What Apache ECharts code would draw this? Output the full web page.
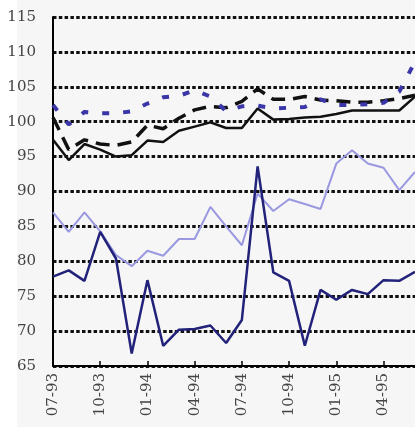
<!DOCTYPE html>
<html>
<head>
<meta charset="utf-8">
<script src="https://cdn.jsdelivr.net/npm/echarts@6/dist/echarts.min.js"></script>
<style>
html,body{margin:0;padding:0;background:#ffffff;}
#chart{width:415px;height:430px;}
</style>
</head>
<body>
<div id="chart"></div>
<script>
const categories = ["07-93","08-93","09-93","10-93","11-93","12-93","01-94","02-94","03-94","04-94","05-94","06-94","07-94","08-94","09-94","10-94","11-94","12-94","01-95","02-95","03-95","04-95","05-95","06-95"];
const navySolid = [77.8, 78.7, 77.2, 84.2, 80.4, 66.8, 77.3, 67.9, 70.2, 70.3, 70.8, 68.3, 71.6, 93.6, 78.4, 77.2, 67.9, 75.9, 74.5, 75.9, 75.3, 77.3, 77.2, 78.5];
const lavender = [87.0, 84.2, 87.0, 84.3, 80.9, 79.3, 81.5, 80.8, 83.2, 83.2, 87.8, 85.0, 82.3, 89.7, 87.2, 88.9, 88.2, 87.5, 94.0, 95.9, 94.0, 93.4, 90.2, 92.8];
const blackSolid = [97.4, 94.5, 96.8, 96.0, 95.0, 95.2, 97.3, 97.1, 98.7, 99.3, 99.9, 99.1, 99.1, 101.9, 100.3, 100.4, 100.6, 100.7, 101.1, 101.6, 101.6, 101.6, 101.6, 103.6];
const blackDashed = [100.6, 96.0, 97.4, 96.8, 96.6, 97.1, 99.5, 99.0, 100.5, 101.7, 102.2, 102.0, 102.9, 104.7, 103.2, 103.2, 103.6, 103.1, 103.0, 102.8, 102.8, 103.0, 103.3, 103.8];
const navyDotted = [102.4, 99.6, 101.4, 101.2, 101.2, 101.5, 102.6, 103.5, 103.7, 104.5, 103.6, 101.5, 102.2, 102.3, 101.9, 102.0, 102.1, 103.2, 102.4, 102.4, 102.5, 102.7, 104.3, 108.6];

const chart = echarts.init(document.getElementById('chart'), null, {renderer:'canvas'});
const fontFam = '"DejaVu Serif", "Liberation Serif", serif';
chart.setOption({
  animation: false,
  backgroundColor: '#ffffff',
  graphic: [{type:'rect', z:-10, shape:{x:17,y:0,width:400,height:427}, style:{fill:'#f6f6f6'}}],
  grid: {left:53, right:-1, top:17, bottom:64, containLabel:false},
  xAxis: {
    type:'category', data: categories, boundaryGap:false,
    axisLine:{show:true, onZero:false, lineStyle:{color:'#000', width:2}},
    axisTick:{show:true, inside:true, length:5, interval:2, lineStyle:{color:'#000', width:1.5}},
    axisLabel:{interval:2, rotate:90, margin:7, color:'#444', fontFamily:fontFam, fontSize:15},
    splitLine:{show:false}
  },
  yAxis: {
    type:'value', min:65, max:115, interval:5,
    axisLine:{show:true, lineStyle:{color:'#000', width:2}},
    axisTick:{show:false},
    axisLabel:{margin:17, color:'#444', fontFamily:fontFam, fontSize:15},
    splitLine:{show:true, lineStyle:{color:'#111', width:3, type:[3.5,2.3]}}
  },
  series: [
    {type:'line', data: lavender, showSymbol:false, lineStyle:{color:'#9a98e0', width:2}},
    {type:'line', data: navySolid, showSymbol:false, lineStyle:{color:'#22227a', width:2.5}},
    {type:'line', data: blackSolid, showSymbol:false, lineStyle:{color:'#111', width:2.5}},
    {type:'line', data: blackDashed, showSymbol:false, lineStyle:{color:'#111', width:3.5, type:[14,8]}},
    {type:'line', data: navyDotted, showSymbol:false, lineStyle:{color:'#3a36a8', width:4, type:[7,14]}}
  ]
});
</script>
</body>
</html>
